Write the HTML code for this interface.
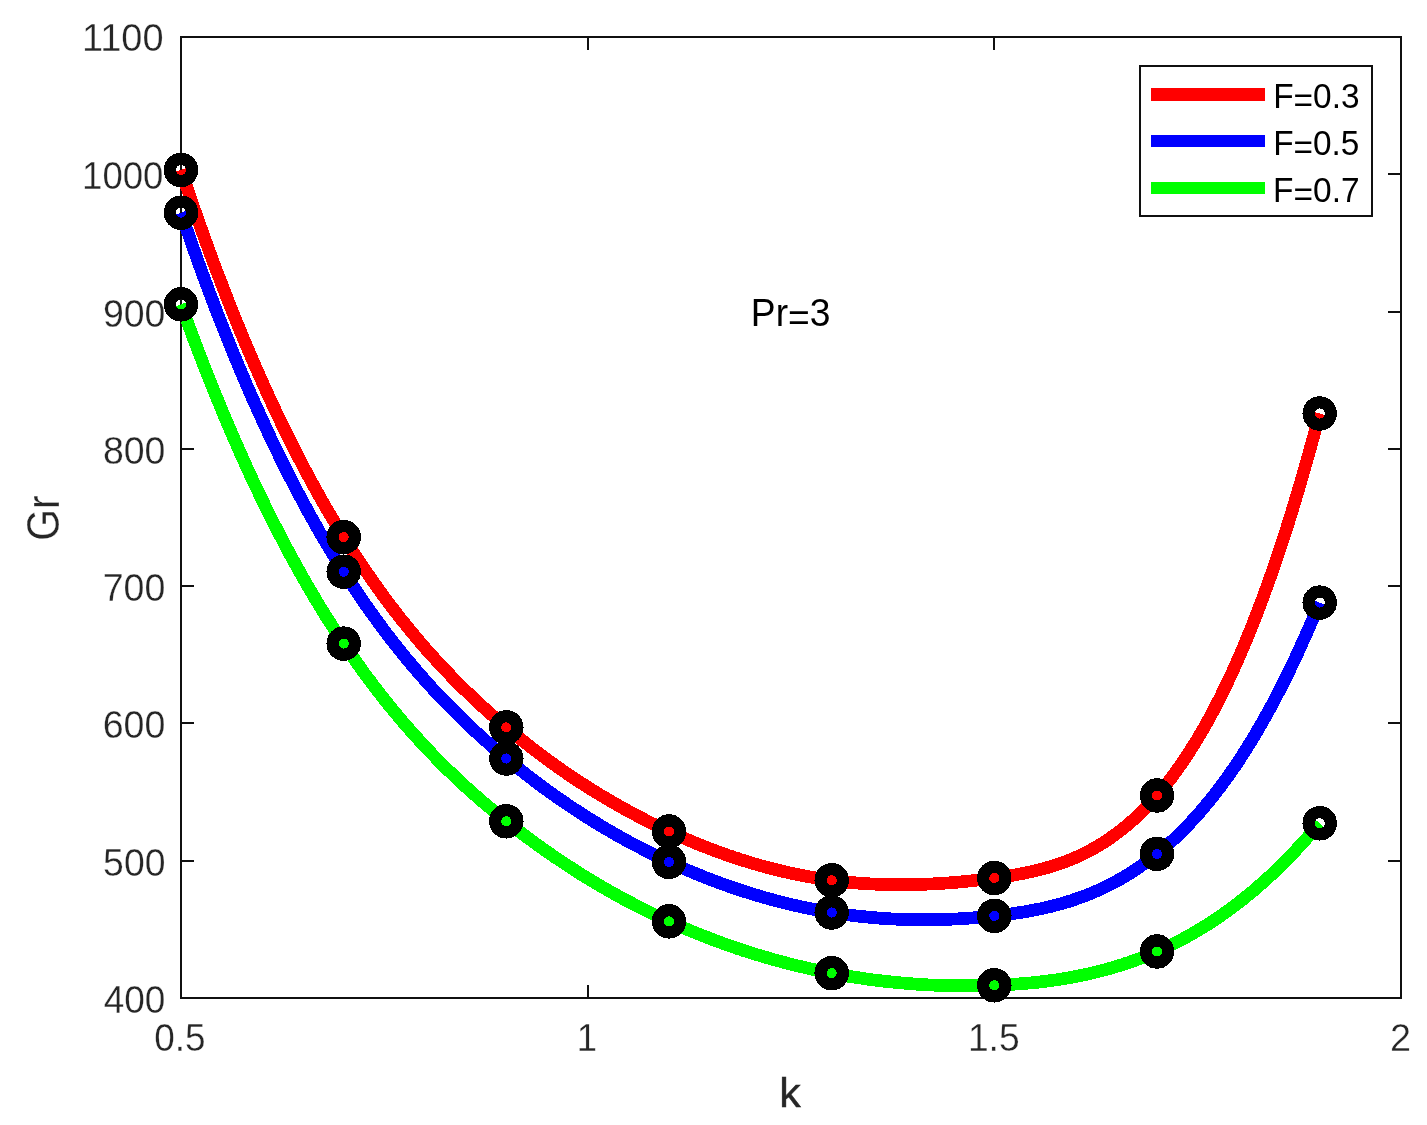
<!DOCTYPE html>
<html><head><meta charset="utf-8"><title>Gr vs k</title>
<style>
html,body{margin:0;padding:0;background:#fff;}
body{width:1427px;height:1125px;overflow:hidden;}
svg{display:block;}
text{font-family:"Liberation Sans",sans-serif;}
</style></head><body>
<svg width="1427" height="1125" viewBox="0 0 1427 1125">
<rect x="0" y="0" width="1427" height="1125" fill="#fff"/>
<g stroke="#101010" stroke-width="2" fill="none" shape-rendering="crispEdges">
<rect x="181" y="37" width="1220" height="961"/>
<line x1="588" y1="998" x2="588" y2="985"/><line x1="588" y1="37" x2="588" y2="50"/>
<line x1="994" y1="998" x2="994" y2="985"/><line x1="994" y1="37" x2="994" y2="50"/>
<line x1="181" y1="861" x2="194" y2="861"/><line x1="1401" y1="861" x2="1388" y2="861"/>
<line x1="181" y1="723" x2="194" y2="723"/><line x1="1401" y1="723" x2="1388" y2="723"/>
<line x1="181" y1="586" x2="194" y2="586"/><line x1="1401" y1="586" x2="1388" y2="586"/>
<line x1="181" y1="449" x2="194" y2="449"/><line x1="1401" y1="449" x2="1388" y2="449"/>
<line x1="181" y1="312" x2="194" y2="312"/><line x1="1401" y1="312" x2="1388" y2="312"/>
<line x1="181" y1="174" x2="194" y2="174"/><line x1="1401" y1="174" x2="1388" y2="174"/>
</g>
<g fill="none" stroke-width="12.7" stroke-linejoin="round" stroke-linecap="butt" shape-rendering="crispEdges">
<path d="M181.0 170.0 L183.9 178.6 L186.7 187.0 L189.6 195.4 L192.4 203.7 L195.3 211.9 L198.1 220.1 L201.0 228.1 L203.8 236.1 L206.7 244.0 L209.5 251.8 L212.4 259.5 L215.2 267.2 L218.1 274.7 L221.0 282.2 L223.8 289.6 L226.7 296.9 L229.5 304.2 L232.4 311.4 L235.2 318.5 L238.1 325.5 L240.9 332.4 L243.8 339.3 L246.6 346.1 L249.5 352.8 L252.3 359.5 L255.2 366.0 L258.1 372.5 L260.9 379.0 L263.8 385.3 L266.6 391.6 L269.5 397.9 L272.3 404.0 L275.2 410.1 L278.0 416.1 L280.9 422.1 L283.7 428.0 L286.6 433.8 L289.4 439.5 L292.3 445.2 L295.2 450.8 L298.0 456.4 L300.9 461.9 L303.7 467.3 L306.6 472.7 L309.4 478.0 L312.3 483.3 L315.1 488.4 L318.0 493.6 L320.8 498.6 L323.7 503.6 L326.5 508.6 L329.4 513.5 L332.3 518.3 L335.1 523.1 L338.0 527.8 L340.8 532.5 L343.7 537.1 L346.5 541.7 L349.4 546.2 L352.2 550.6 L355.1 555.0 L357.9 559.4 L360.8 563.6 L363.6 567.9 L366.5 572.1 L369.4 576.2 L372.2 580.3 L375.1 584.4 L377.9 588.4 L380.8 592.3 L383.6 596.2 L386.5 600.1 L389.3 603.9 L392.2 607.6 L395.0 611.3 L397.9 615.0 L400.7 618.7 L403.6 622.2 L406.5 625.8 L409.3 629.3 L412.2 632.7 L415.0 636.2 L417.9 639.5 L420.7 642.9 L423.6 646.2 L426.4 649.5 L429.3 652.7 L432.1 655.9 L435.0 659.0 L437.8 662.1 L440.7 665.2 L443.5 668.2 L446.4 671.3 L449.3 674.2 L452.1 677.2 L455.0 680.1 L457.8 682.9 L460.7 685.8 L463.5 688.6 L466.4 691.4 L469.2 694.1 L472.1 696.9 L474.9 699.5 L477.8 702.2 L480.6 704.8 L483.5 707.5 L486.4 710.0 L489.2 712.6 L492.1 715.1 L494.9 717.6 L497.8 720.1 L500.6 722.6 L503.5 725.0 L506.3 727.4 L509.2 729.8 L512.0 732.2 L514.9 734.5 L517.7 736.8 L520.6 739.1 L523.5 741.4 L526.3 743.6 L529.2 745.9 L532.0 748.1 L534.9 750.3 L537.7 752.5 L540.6 754.6 L543.4 756.7 L546.3 758.8 L549.1 760.9 L552.0 763.0 L554.8 765.0 L557.7 767.1 L560.6 769.1 L563.4 771.1 L566.3 773.0 L569.1 775.0 L572.0 776.9 L574.8 778.8 L577.7 780.7 L580.5 782.6 L583.4 784.4 L586.2 786.2 L589.1 788.1 L591.9 789.8 L594.8 791.6 L597.7 793.4 L600.5 795.1 L603.4 796.8 L606.2 798.5 L609.1 800.2 L611.9 801.9 L614.8 803.5 L617.6 805.1 L620.5 806.7 L623.3 808.3 L626.2 809.9 L629.0 811.5 L631.9 813.0 L634.8 814.5 L637.6 816.0 L640.5 817.5 L643.3 819.0 L646.2 820.5 L649.0 821.9 L651.9 823.3 L654.7 824.7 L657.6 826.1 L660.4 827.5 L663.3 828.8 L666.1 830.2 L669.0 831.5 L671.9 832.8 L674.7 834.1 L677.6 835.4 L680.4 836.6 L683.3 837.9 L686.1 839.1 L689.0 840.3 L691.8 841.5 L694.7 842.7 L697.5 843.9 L700.4 845.0 L703.2 846.2 L706.1 847.3 L709.0 848.4 L711.8 849.5 L714.7 850.6 L717.5 851.6 L720.4 852.7 L723.2 853.7 L726.1 854.7 L728.9 855.7 L731.8 856.6 L734.6 857.6 L737.5 858.5 L740.3 859.5 L743.2 860.4 L746.1 861.3 L748.9 862.2 L751.8 863.0 L754.6 863.9 L757.5 864.7 L760.3 865.5 L763.2 866.3 L766.0 867.1 L768.9 867.8 L771.7 868.6 L774.6 869.3 L777.4 870.0 L780.3 870.7 L783.2 871.4 L786.0 872.0 L788.9 872.7 L791.7 873.3 L794.6 873.9 L797.4 874.5 L800.3 875.1 L803.1 875.6 L806.0 876.2 L808.8 876.7 L811.7 877.2 L814.5 877.7 L817.4 878.2 L820.3 878.6 L823.1 879.1 L826.0 879.5 L828.8 879.9 L831.7 880.3 L834.5 880.7 L837.4 881.0 L840.2 881.4 L843.1 881.7 L845.9 882.0 L848.8 882.3 L851.6 882.5 L854.5 882.8 L857.4 883.0 L860.2 883.3 L863.1 883.5 L865.9 883.6 L868.8 883.8 L871.6 884.0 L874.5 884.1 L877.3 884.3 L880.2 884.4 L883.0 884.5 L885.9 884.5 L888.7 884.6 L891.6 884.7 L894.5 884.7 L897.3 884.7 L900.2 884.7 L903.0 884.7 L905.9 884.7 L908.7 884.7 L911.6 884.6 L914.4 884.6 L917.3 884.5 L920.1 884.4 L923.0 884.3 L925.8 884.2 L928.7 884.1 L931.5 884.0 L934.4 883.8 L937.3 883.6 L940.1 883.5 L943.0 883.3 L945.8 883.1 L948.7 882.9 L951.5 882.7 L954.4 882.4 L957.2 882.2 L960.1 881.9 L962.9 881.7 L965.8 881.4 L968.6 881.1 L971.5 880.8 L974.4 880.5 L977.2 880.1 L980.1 879.8 L982.9 879.5 L985.8 879.1 L988.6 878.8 L991.5 878.4 L994.3 878.0 L997.2 877.6 L1000.0 877.2 L1002.9 876.8 L1005.7 876.4 L1008.6 875.9 L1011.5 875.4 L1014.3 875.0 L1017.2 874.5 L1020.0 873.9 L1022.9 873.4 L1025.7 872.8 L1028.6 872.2 L1031.4 871.6 L1034.3 871.0 L1037.1 870.3 L1040.0 869.6 L1042.8 868.8 L1045.7 868.0 L1048.6 867.2 L1051.4 866.4 L1054.3 865.5 L1057.1 864.6 L1060.0 863.6 L1062.8 862.6 L1065.7 861.5 L1068.5 860.4 L1071.4 859.3 L1074.2 858.1 L1077.1 856.8 L1079.9 855.5 L1082.8 854.1 L1085.7 852.7 L1088.5 851.3 L1091.4 849.7 L1094.2 848.2 L1097.1 846.5 L1099.9 844.8 L1102.8 843.0 L1105.6 841.2 L1108.5 839.3 L1111.3 837.3 L1114.2 835.3 L1117.0 833.2 L1119.9 831.0 L1122.8 828.8 L1125.6 826.4 L1128.5 824.0 L1131.3 821.6 L1134.2 819.0 L1137.0 816.4 L1139.9 813.6 L1142.7 810.8 L1145.6 807.9 L1148.4 805.0 L1151.3 801.9 L1154.1 798.7 L1157.0 795.5 L1159.9 792.2 L1162.7 788.7 L1165.6 785.2 L1168.4 781.6 L1171.3 777.9 L1174.1 774.0 L1177.0 770.1 L1179.8 766.1 L1182.7 762.0 L1185.5 757.7 L1188.4 753.4 L1191.2 749.0 L1194.1 744.4 L1197.0 739.7 L1199.8 735.0 L1202.7 730.1 L1205.5 725.1 L1208.4 719.9 L1211.2 714.7 L1214.1 709.3 L1216.9 703.8 L1219.8 698.2 L1222.6 692.5 L1225.5 686.6 L1228.3 680.7 L1231.2 674.5 L1234.1 668.3 L1236.9 661.9 L1239.8 655.4 L1242.6 648.8 L1245.5 642.0 L1248.3 635.1 L1251.2 628.0 L1254.0 620.9 L1256.9 613.5 L1259.7 606.0 L1262.6 598.4 L1265.4 590.7 L1268.3 582.7 L1271.2 574.7 L1274.0 566.5 L1276.9 558.1 L1279.7 549.6 L1282.6 540.9 L1285.4 532.1 L1288.3 523.1 L1291.1 514.0 L1294.0 504.7 L1296.8 495.2 L1299.7 485.6 L1302.5 475.8 L1305.4 465.8 L1308.3 455.7 L1311.1 445.4 L1314.0 434.9 L1316.8 424.3 L1319.7 413.5" stroke="#ff0000"/>
<path d="M181.0 212.7 L183.9 221.1 L186.7 229.3 L189.6 237.5 L192.4 245.7 L195.3 253.7 L198.1 261.6 L201.0 269.5 L203.8 277.3 L206.7 285.0 L209.5 292.6 L212.4 300.2 L215.2 307.7 L218.1 315.1 L221.0 322.4 L223.8 329.6 L226.7 336.8 L229.5 343.9 L232.4 350.9 L235.2 357.8 L238.1 364.7 L240.9 371.5 L243.8 378.2 L246.6 384.9 L249.5 391.4 L252.3 397.9 L255.2 404.4 L258.1 410.7 L260.9 417.0 L263.8 423.2 L266.6 429.4 L269.5 435.5 L272.3 441.5 L275.2 447.5 L278.0 453.3 L280.9 459.2 L283.7 464.9 L286.6 470.6 L289.4 476.2 L292.3 481.8 L295.2 487.3 L298.0 492.7 L300.9 498.1 L303.7 503.4 L306.6 508.7 L309.4 513.9 L312.3 519.0 L315.1 524.1 L318.0 529.1 L320.8 534.1 L323.7 539.0 L326.5 543.8 L329.4 548.6 L332.3 553.3 L335.1 558.0 L338.0 562.6 L340.8 567.2 L343.7 571.7 L346.5 576.2 L349.4 580.6 L352.2 584.9 L355.1 589.2 L357.9 593.5 L360.8 597.7 L363.6 601.8 L366.5 606.0 L369.4 610.0 L372.2 614.0 L375.1 618.0 L377.9 621.9 L380.8 625.8 L383.6 629.6 L386.5 633.4 L389.3 637.1 L392.2 640.8 L395.0 644.4 L397.9 648.0 L400.7 651.6 L403.6 655.1 L406.5 658.6 L409.3 662.0 L412.2 665.4 L415.0 668.8 L417.9 672.1 L420.7 675.4 L423.6 678.6 L426.4 681.8 L429.3 685.0 L432.1 688.1 L435.0 691.2 L437.8 694.3 L440.7 697.3 L443.5 700.3 L446.4 703.2 L449.3 706.1 L452.1 709.0 L455.0 711.9 L457.8 714.7 L460.7 717.5 L463.5 720.3 L466.4 723.0 L469.2 725.7 L472.1 728.4 L474.9 731.1 L477.8 733.7 L480.6 736.3 L483.5 738.8 L486.4 741.4 L489.2 743.9 L492.1 746.4 L494.9 748.9 L497.8 751.3 L500.6 753.7 L503.5 756.1 L506.3 758.5 L509.2 760.9 L512.0 763.2 L514.9 765.5 L517.7 767.8 L520.6 770.1 L523.5 772.3 L526.3 774.5 L529.2 776.8 L532.0 778.9 L534.9 781.1 L537.7 783.3 L540.6 785.4 L543.4 787.5 L546.3 789.6 L549.1 791.6 L552.0 793.7 L554.8 795.7 L557.7 797.7 L560.6 799.7 L563.4 801.7 L566.3 803.6 L569.1 805.6 L572.0 807.5 L574.8 809.4 L577.7 811.2 L580.5 813.1 L583.4 814.9 L586.2 816.8 L589.1 818.6 L591.9 820.3 L594.8 822.1 L597.7 823.8 L600.5 825.6 L603.4 827.3 L606.2 829.0 L609.1 830.6 L611.9 832.3 L614.8 833.9 L617.6 835.6 L620.5 837.2 L623.3 838.7 L626.2 840.3 L629.0 841.9 L631.9 843.4 L634.8 844.9 L637.6 846.4 L640.5 847.9 L643.3 849.4 L646.2 850.8 L649.0 852.3 L651.9 853.7 L654.7 855.1 L657.6 856.5 L660.4 857.9 L663.3 859.2 L666.1 860.6 L669.0 861.9 L671.9 863.2 L674.7 864.5 L677.6 865.8 L680.4 867.1 L683.3 868.3 L686.1 869.5 L689.0 870.8 L691.8 872.0 L694.7 873.2 L697.5 874.3 L700.4 875.5 L703.2 876.6 L706.1 877.8 L709.0 878.9 L711.8 880.0 L714.7 881.1 L717.5 882.1 L720.4 883.2 L723.2 884.2 L726.1 885.3 L728.9 886.3 L731.8 887.3 L734.6 888.2 L737.5 889.2 L740.3 890.1 L743.2 891.1 L746.1 892.0 L748.9 892.9 L751.8 893.8 L754.6 894.7 L757.5 895.5 L760.3 896.4 L763.2 897.2 L766.0 898.0 L768.9 898.8 L771.7 899.6 L774.6 900.3 L777.4 901.1 L780.3 901.8 L783.2 902.5 L786.0 903.3 L788.9 903.9 L791.7 904.6 L794.6 905.3 L797.4 905.9 L800.3 906.6 L803.1 907.2 L806.0 907.8 L808.8 908.4 L811.7 908.9 L814.5 909.5 L817.4 910.0 L820.3 910.5 L823.1 911.1 L826.0 911.6 L828.8 912.0 L831.7 912.5 L834.5 913.0 L837.4 913.4 L840.2 913.8 L843.1 914.2 L845.9 914.6 L848.8 915.0 L851.6 915.3 L854.5 915.7 L857.4 916.0 L860.2 916.3 L863.1 916.6 L865.9 916.9 L868.8 917.2 L871.6 917.5 L874.5 917.7 L877.3 917.9 L880.2 918.2 L883.0 918.4 L885.9 918.5 L888.7 918.7 L891.6 918.9 L894.5 919.0 L897.3 919.2 L900.2 919.3 L903.0 919.4 L905.9 919.5 L908.7 919.6 L911.6 919.6 L914.4 919.7 L917.3 919.7 L920.1 919.7 L923.0 919.8 L925.8 919.8 L928.7 919.7 L931.5 919.7 L934.4 919.7 L937.3 919.6 L940.1 919.6 L943.0 919.5 L945.8 919.4 L948.7 919.3 L951.5 919.2 L954.4 919.0 L957.2 918.9 L960.1 918.7 L962.9 918.6 L965.8 918.4 L968.6 918.2 L971.5 918.0 L974.4 917.8 L977.2 917.5 L980.1 917.3 L982.9 917.0 L985.8 916.8 L988.6 916.5 L991.5 916.2 L994.3 915.9 L997.2 915.6 L1000.0 915.3 L1002.9 914.9 L1005.7 914.6 L1008.6 914.2 L1011.5 913.8 L1014.3 913.4 L1017.2 913.0 L1020.0 912.5 L1022.9 912.1 L1025.7 911.6 L1028.6 911.1 L1031.4 910.6 L1034.3 910.0 L1037.1 909.5 L1040.0 908.9 L1042.8 908.3 L1045.7 907.6 L1048.6 907.0 L1051.4 906.3 L1054.3 905.5 L1057.1 904.8 L1060.0 904.0 L1062.8 903.2 L1065.7 902.4 L1068.5 901.5 L1071.4 900.6 L1074.2 899.6 L1077.1 898.6 L1079.9 897.6 L1082.8 896.6 L1085.7 895.5 L1088.5 894.4 L1091.4 893.2 L1094.2 892.0 L1097.1 890.8 L1099.9 889.5 L1102.8 888.2 L1105.6 886.8 L1108.5 885.4 L1111.3 883.9 L1114.2 882.4 L1117.0 880.9 L1119.9 879.3 L1122.8 877.6 L1125.6 875.9 L1128.5 874.2 L1131.3 872.4 L1134.2 870.6 L1137.0 868.7 L1139.9 866.7 L1142.7 864.7 L1145.6 862.7 L1148.4 860.6 L1151.3 858.4 L1154.1 856.2 L1157.0 853.9 L1159.9 851.6 L1162.7 849.2 L1165.6 846.7 L1168.4 844.2 L1171.3 841.6 L1174.1 839.0 L1177.0 836.3 L1179.8 833.5 L1182.7 830.7 L1185.5 827.8 L1188.4 824.8 L1191.2 821.8 L1194.1 818.7 L1197.0 815.5 L1199.8 812.3 L1202.7 809.0 L1205.5 805.6 L1208.4 802.1 L1211.2 798.6 L1214.1 795.0 L1216.9 791.3 L1219.8 787.6 L1222.6 783.8 L1225.5 779.9 L1228.3 775.9 L1231.2 771.8 L1234.1 767.7 L1236.9 763.5 L1239.8 759.2 L1242.6 754.8 L1245.5 750.3 L1248.3 745.8 L1251.2 741.2 L1254.0 736.4 L1256.9 731.6 L1259.7 726.7 L1262.6 721.8 L1265.4 716.7 L1268.3 711.5 L1271.2 706.3 L1274.0 701.0 L1276.9 695.5 L1279.7 690.0 L1282.6 684.4 L1285.4 678.7 L1288.3 672.9 L1291.1 667.0 L1294.0 661.0 L1296.8 654.9 L1299.7 648.7 L1302.5 642.4 L1305.4 636.1 L1308.3 629.6 L1311.1 623.0 L1314.0 616.3 L1316.8 609.5 L1319.7 602.6" stroke="#0000ff"/>
<path d="M181.0 304.4 L183.9 312.3 L186.7 320.1 L189.6 327.9 L192.4 335.5 L195.3 343.1 L198.1 350.6 L201.0 358.0 L203.8 365.4 L206.7 372.7 L209.5 379.9 L212.4 387.0 L215.2 394.0 L218.1 401.0 L221.0 407.9 L223.8 414.8 L226.7 421.5 L229.5 428.2 L232.4 434.9 L235.2 441.4 L238.1 447.9 L240.9 454.3 L243.8 460.6 L246.6 466.9 L249.5 473.1 L252.3 479.3 L255.2 485.4 L258.1 491.4 L260.9 497.3 L263.8 503.2 L266.6 509.0 L269.5 514.8 L272.3 520.4 L275.2 526.1 L278.0 531.6 L280.9 537.1 L283.7 542.6 L286.6 548.0 L289.4 553.3 L292.3 558.5 L295.2 563.7 L298.0 568.9 L300.9 574.0 L303.7 579.0 L306.6 584.0 L309.4 588.9 L312.3 593.7 L315.1 598.5 L318.0 603.3 L320.8 608.0 L323.7 612.6 L326.5 617.2 L329.4 621.7 L332.3 626.2 L335.1 630.6 L338.0 635.0 L340.8 639.3 L343.7 643.6 L346.5 647.8 L349.4 652.0 L352.2 656.1 L355.1 660.2 L357.9 664.2 L360.8 668.2 L363.6 672.2 L366.5 676.1 L369.4 679.9 L372.2 683.7 L375.1 687.5 L377.9 691.2 L380.8 694.8 L383.6 698.5 L386.5 702.1 L389.3 705.6 L392.2 709.1 L395.0 712.6 L397.9 716.0 L400.7 719.4 L403.6 722.7 L406.5 726.0 L409.3 729.3 L412.2 732.5 L415.0 735.7 L417.9 738.8 L420.7 742.0 L423.6 745.0 L426.4 748.1 L429.3 751.1 L432.1 754.1 L435.0 757.0 L437.8 759.9 L440.7 762.8 L443.5 765.7 L446.4 768.5 L449.3 771.3 L452.1 774.0 L455.0 776.7 L457.8 779.4 L460.7 782.1 L463.5 784.7 L466.4 787.4 L469.2 789.9 L472.1 792.5 L474.9 795.0 L477.8 797.5 L480.6 800.0 L483.5 802.5 L486.4 804.9 L489.2 807.3 L492.1 809.7 L494.9 812.1 L497.8 814.4 L500.6 816.7 L503.5 819.0 L506.3 821.3 L509.2 823.6 L512.0 825.8 L514.9 828.0 L517.7 830.2 L520.6 832.4 L523.5 834.6 L526.3 836.7 L529.2 838.8 L532.0 840.9 L534.9 843.0 L537.7 845.1 L540.6 847.1 L543.4 849.2 L546.3 851.2 L549.1 853.2 L552.0 855.1 L554.8 857.1 L557.7 859.0 L560.6 860.9 L563.4 862.8 L566.3 864.7 L569.1 866.6 L572.0 868.4 L574.8 870.3 L577.7 872.1 L580.5 873.9 L583.4 875.7 L586.2 877.4 L589.1 879.2 L591.9 880.9 L594.8 882.6 L597.7 884.3 L600.5 886.0 L603.4 887.6 L606.2 889.3 L609.1 890.9 L611.9 892.5 L614.8 894.1 L617.6 895.7 L620.5 897.2 L623.3 898.8 L626.2 900.3 L629.0 901.8 L631.9 903.3 L634.8 904.8 L637.6 906.3 L640.5 907.7 L643.3 909.1 L646.2 910.6 L649.0 912.0 L651.9 913.4 L654.7 914.7 L657.6 916.1 L660.4 917.4 L663.3 918.8 L666.1 920.1 L669.0 921.4 L671.9 922.7 L674.7 924.0 L677.6 925.2 L680.4 926.5 L683.3 927.7 L686.1 928.9 L689.0 930.1 L691.8 931.3 L694.7 932.5 L697.5 933.6 L700.4 934.8 L703.2 935.9 L706.1 937.0 L709.0 938.1 L711.8 939.2 L714.7 940.3 L717.5 941.4 L720.4 942.4 L723.2 943.5 L726.1 944.5 L728.9 945.5 L731.8 946.5 L734.6 947.5 L737.5 948.5 L740.3 949.4 L743.2 950.4 L746.1 951.3 L748.9 952.2 L751.8 953.1 L754.6 954.0 L757.5 954.9 L760.3 955.7 L763.2 956.6 L766.0 957.4 L768.9 958.2 L771.7 959.1 L774.6 959.9 L777.4 960.6 L780.3 961.4 L783.2 962.2 L786.0 962.9 L788.9 963.7 L791.7 964.4 L794.6 965.1 L797.4 965.8 L800.3 966.5 L803.1 967.1 L806.0 967.8 L808.8 968.5 L811.7 969.1 L814.5 969.7 L817.4 970.3 L820.3 970.9 L823.1 971.5 L826.0 972.1 L828.8 972.6 L831.7 973.2 L834.5 973.7 L837.4 974.3 L840.2 974.8 L843.1 975.3 L845.9 975.8 L848.8 976.3 L851.6 976.7 L854.5 977.2 L857.4 977.6 L860.2 978.0 L863.1 978.5 L865.9 978.9 L868.8 979.3 L871.6 979.7 L874.5 980.0 L877.3 980.4 L880.2 980.7 L883.0 981.1 L885.9 981.4 L888.7 981.7 L891.6 982.0 L894.5 982.3 L897.3 982.6 L900.2 982.8 L903.0 983.1 L905.9 983.3 L908.7 983.6 L911.6 983.8 L914.4 984.0 L917.3 984.2 L920.1 984.4 L923.0 984.6 L925.8 984.7 L928.7 984.9 L931.5 985.0 L934.4 985.2 L937.3 985.3 L940.1 985.4 L943.0 985.5 L945.8 985.6 L948.7 985.6 L951.5 985.7 L954.4 985.8 L957.2 985.8 L960.1 985.8 L962.9 985.8 L965.8 985.8 L968.6 985.8 L971.5 985.8 L974.4 985.8 L977.2 985.8 L980.1 985.7 L982.9 985.6 L985.8 985.6 L988.6 985.5 L991.5 985.4 L994.3 985.3 L997.2 985.2 L1000.0 985.1 L1002.9 984.9 L1005.7 984.8 L1008.6 984.6 L1011.5 984.4 L1014.3 984.2 L1017.2 984.0 L1020.0 983.8 L1022.9 983.6 L1025.7 983.4 L1028.6 983.1 L1031.4 982.8 L1034.3 982.6 L1037.1 982.3 L1040.0 981.9 L1042.8 981.6 L1045.7 981.3 L1048.6 980.9 L1051.4 980.5 L1054.3 980.1 L1057.1 979.7 L1060.0 979.2 L1062.8 978.8 L1065.7 978.3 L1068.5 977.8 L1071.4 977.3 L1074.2 976.8 L1077.1 976.2 L1079.9 975.7 L1082.8 975.1 L1085.7 974.5 L1088.5 973.8 L1091.4 973.2 L1094.2 972.5 L1097.1 971.8 L1099.9 971.1 L1102.8 970.3 L1105.6 969.6 L1108.5 968.8 L1111.3 968.0 L1114.2 967.1 L1117.0 966.3 L1119.9 965.4 L1122.8 964.5 L1125.6 963.5 L1128.5 962.6 L1131.3 961.6 L1134.2 960.6 L1137.0 959.5 L1139.9 958.5 L1142.7 957.4 L1145.6 956.3 L1148.4 955.1 L1151.3 953.9 L1154.1 952.7 L1157.0 951.5 L1159.9 950.2 L1162.7 948.9 L1165.6 947.6 L1168.4 946.3 L1171.3 944.9 L1174.1 943.5 L1177.0 942.0 L1179.8 940.6 L1182.7 939.0 L1185.5 937.5 L1188.4 935.9 L1191.2 934.3 L1194.1 932.7 L1197.0 931.0 L1199.8 929.3 L1202.7 927.6 L1205.5 925.8 L1208.4 924.0 L1211.2 922.2 L1214.1 920.3 L1216.9 918.4 L1219.8 916.4 L1222.6 914.4 L1225.5 912.4 L1228.3 910.4 L1231.2 908.3 L1234.1 906.1 L1236.9 904.0 L1239.8 901.8 L1242.6 899.5 L1245.5 897.2 L1248.3 894.9 L1251.2 892.6 L1254.0 890.2 L1256.9 887.7 L1259.7 885.2 L1262.6 882.7 L1265.4 880.2 L1268.3 877.6 L1271.2 874.9 L1274.0 872.2 L1276.9 869.5 L1279.7 866.7 L1282.6 863.9 L1285.4 861.1 L1288.3 858.2 L1291.1 855.2 L1294.0 852.2 L1296.8 849.2 L1299.7 846.1 L1302.5 843.0 L1305.4 839.8 L1308.3 836.6 L1311.1 833.4 L1314.0 830.0 L1316.8 826.7 L1319.7 823.3" stroke="#00ff00"/>
</g>
<g fill="none" stroke="#000" stroke-width="12.2" shape-rendering="crispEdges">
<circle cx="181.0" cy="170.0" r="11.15"/><circle cx="343.7" cy="537.1" r="11.15"/><circle cx="506.3" cy="727.4" r="11.15"/><circle cx="669.0" cy="831.5" r="11.15"/><circle cx="831.7" cy="880.3" r="11.15"/><circle cx="994.3" cy="878.0" r="11.15"/><circle cx="1157.0" cy="795.5" r="11.15"/><circle cx="1319.7" cy="413.5" r="11.15"/>
<circle cx="181.0" cy="212.7" r="11.15"/><circle cx="343.7" cy="571.7" r="11.15"/><circle cx="506.3" cy="758.5" r="11.15"/><circle cx="669.0" cy="861.9" r="11.15"/><circle cx="831.7" cy="912.5" r="11.15"/><circle cx="994.3" cy="915.9" r="11.15"/><circle cx="1157.0" cy="853.9" r="11.15"/><circle cx="1319.7" cy="602.6" r="11.15"/>
<circle cx="181.0" cy="304.4" r="11.15"/><circle cx="343.7" cy="643.6" r="11.15"/><circle cx="506.3" cy="821.3" r="11.15"/><circle cx="669.0" cy="921.4" r="11.15"/><circle cx="831.7" cy="973.2" r="11.15"/><circle cx="994.3" cy="985.3" r="11.15"/><circle cx="1157.0" cy="951.5" r="11.15"/><circle cx="1319.7" cy="823.3" r="11.15"/>
</g>
<text transform="translate(103.67,1012.52) scale(0.9696,1)" font-size="38.17" fill="#262626" stroke="#fff" stroke-width="0.3">400</text>
<text transform="translate(103.11,875.52) scale(0.9788,1)" font-size="38.17" fill="#262626" stroke="#fff" stroke-width="0.3">500</text>
<text transform="translate(102.72,737.52) scale(0.9850,1)" font-size="38.17" fill="#262626" stroke="#fff" stroke-width="0.3">600</text>
<text transform="translate(102.72,600.52) scale(0.9850,1)" font-size="38.17" fill="#262626" stroke="#fff" stroke-width="0.3">700</text>
<text transform="translate(102.91,463.52) scale(0.9819,1)" font-size="38.17" fill="#262626" stroke="#fff" stroke-width="0.3">800</text>
<text transform="translate(102.91,326.52) scale(0.9819,1)" font-size="38.17" fill="#262626" stroke="#fff" stroke-width="0.3">900</text>
<text transform="translate(82.06,188.52) scale(0.9586,1)" font-size="38.17" fill="#262626" stroke="#fff" stroke-width="0.3">1000</text>
<text transform="translate(81.95,50.62) scale(0.9939,1)" font-size="38.17" fill="#262626" stroke="#fff" stroke-width="0.3">1100</text>
<text transform="translate(154.32,1050.81) scale(0.9574,1)" font-size="38.59" fill="#262626" stroke="#fff" stroke-width="0.3">0.5</text>
<text transform="translate(967.91,1050.71) scale(0.9588,1)" font-size="38.86" fill="#262626" stroke="#fff" stroke-width="0.3">1.5</text>
<text transform="translate(1389.91,1051.00) scale(0.9746,1)" font-size="38.79" fill="#262626" stroke="#fff" stroke-width="0.3">2</text>
<text transform="translate(586.80,1050.7) scale(0.955,1)" font-size="38.2" fill="#262626" text-anchor="middle" stroke="#fff" stroke-width="0.3">1</text>
<text transform="translate(779.31,1106.70) scale(1.0494,1)" font-size="40.97" fill="#262626" stroke="#262626" stroke-width="0.45">k</text>
<text transform="translate(58.74,540.85) rotate(-90) scale(0.8828,1)" font-size="46.34" fill="#262626" stroke="#fff" stroke-width="0.3">Gr</text>
<text transform="translate(750.87,325.71) scale(0.9478,1)" font-size="39.30" fill="#000">Pr<tspan dy="4.8">=</tspan><tspan dy="-4.8">3</tspan></text>
<rect x="1140" y="66" width="232" height="150" fill="#fff" stroke="#101010" stroke-width="2" shape-rendering="crispEdges"/>
<rect x="1151" y="88" width="114" height="13" fill="#ff0000" shape-rendering="crispEdges"/><text transform="translate(1273.13,107.65) scale(0.9490,1)" font-size="35.21" fill="#000">F<tspan dy="4.3">=</tspan><tspan dy="-4.3">0.3</tspan></text>
<rect x="1151" y="135" width="114" height="12" fill="#0000ff" shape-rendering="crispEdges"/><text transform="translate(1273.13,154.75) scale(0.9471,1)" font-size="35.21" fill="#000">F<tspan dy="4.3">=</tspan><tspan dy="-4.3">0.5</tspan></text>
<rect x="1151" y="182" width="114" height="12" fill="#00ff00" shape-rendering="crispEdges"/><text transform="translate(1273.12,201.85) scale(0.9509,1)" font-size="35.21" fill="#000">F<tspan dy="4.3">=</tspan><tspan dy="-4.3">0.7</tspan></text>
</svg>
</body></html>
